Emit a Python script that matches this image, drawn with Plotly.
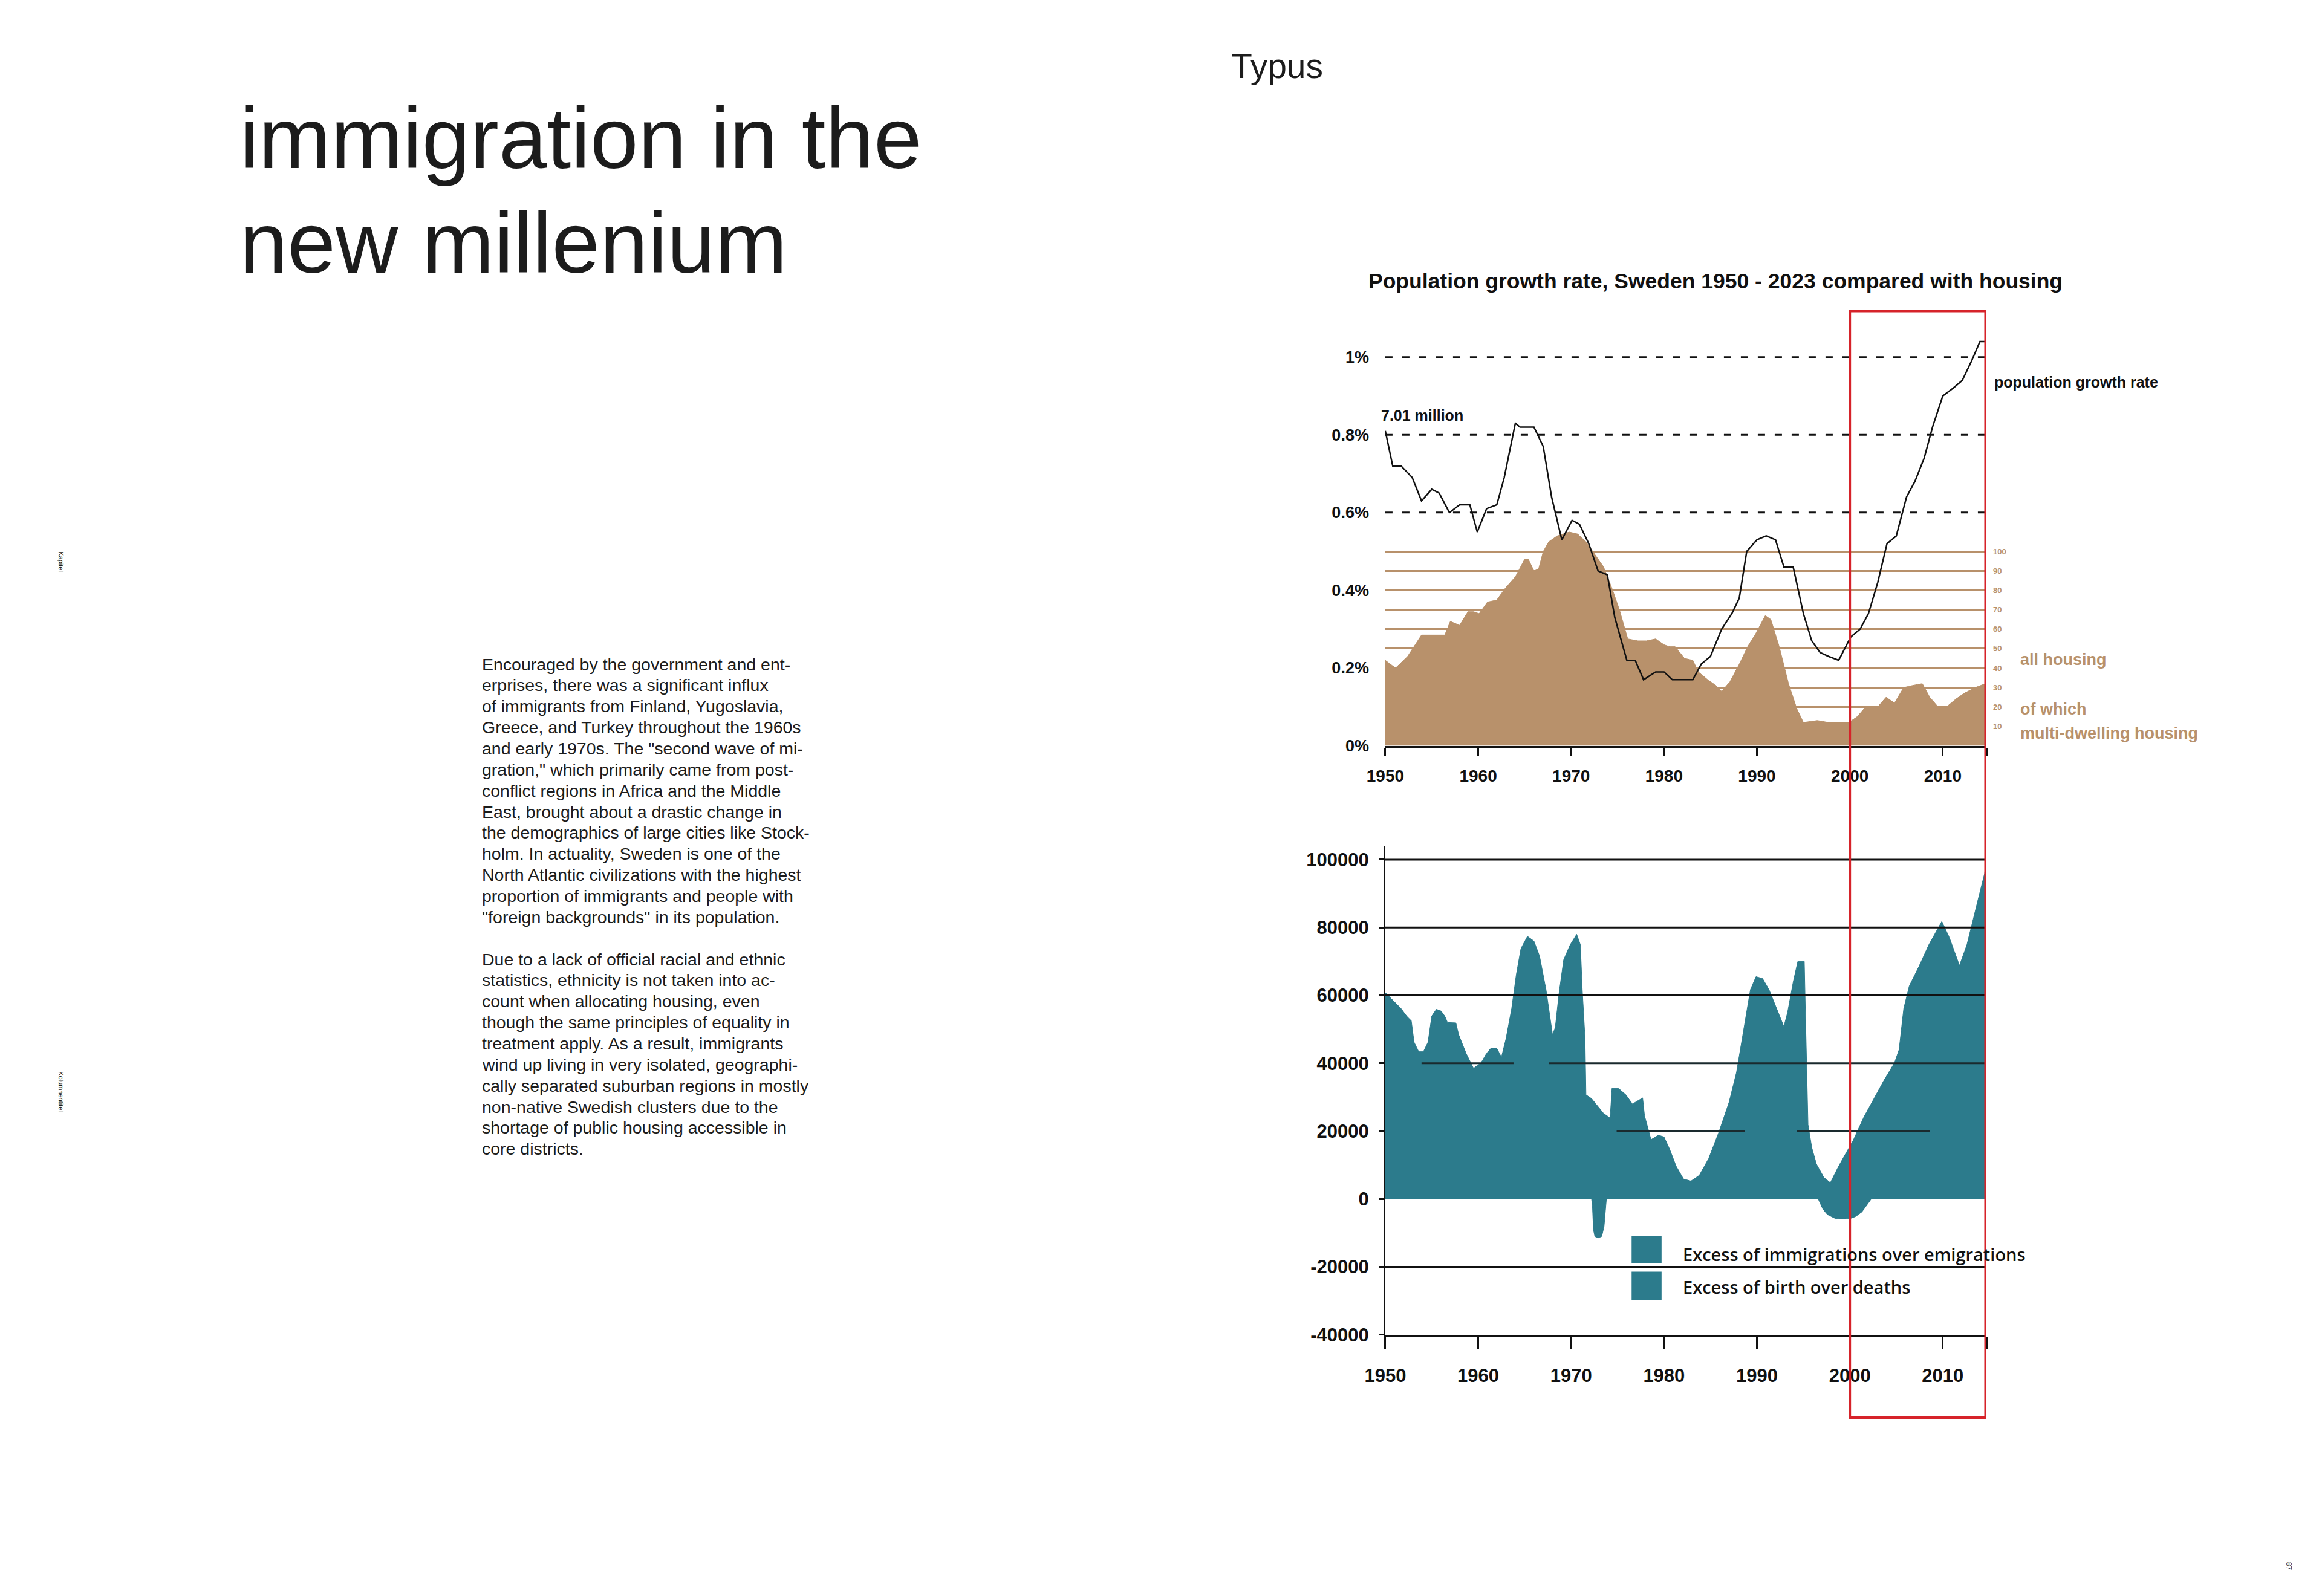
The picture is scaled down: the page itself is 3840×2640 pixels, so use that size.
import plotly.graph_objects as go

W, H = 3840, 2640
def px(x): return x / W
def py(y): return 1 - y / H

# ---------------- data ----------------
growth_years = [1950.0, 1950.8, 1951.7, 1952.9, 1953.9, 1955.0, 1955.8, 1956.9, 1958.0, 1959.1,
                1959.9, 1960.9, 1962.0, 1962.8, 1964.0, 1964.5, 1966.0, 1967.0, 1967.9, 1969.0,
                1970.1, 1970.9, 1971.9, 1972.9, 1973.9, 1974.7, 1976.0, 1976.9, 1977.8, 1979.1,
                1980.0, 1980.9, 1983.1, 1984.0, 1985.0, 1986.2, 1987.3, 1988.1, 1988.9, 1990.0,
                1991.0, 1992.0, 1992.9, 1993.9, 1995.0, 1995.9, 1996.8, 1997.7, 1998.8, 2000.1,
                2001.1, 2002.0, 2003.0, 2004.0, 2005.0, 2006.1, 2007.0, 2008.0, 2008.9, 2010.0,
                2011.1, 2012.1, 2013.1, 2014.0, 2014.5]
growth_pct = [0.81, 0.72, 0.72, 0.69, 0.63, 0.66, 0.65, 0.60, 0.62, 0.62,
              0.55, 0.61, 0.62, 0.69, 0.83, 0.82, 0.82, 0.77, 0.64, 0.53,
              0.58, 0.57, 0.52, 0.45, 0.44, 0.33, 0.22, 0.22, 0.17, 0.19,
              0.19, 0.17, 0.17, 0.21, 0.23, 0.30, 0.34, 0.38, 0.50, 0.53,
              0.54, 0.53, 0.46, 0.46, 0.34, 0.27, 0.24, 0.23, 0.22, 0.28,
              0.30, 0.34, 0.42, 0.52, 0.54, 0.64, 0.68, 0.74, 0.82, 0.90,
              0.92, 0.94, 0.99, 1.04, 1.04]

housing_years = [1950.0, 1951.1, 1952.4, 1953.9, 1954.5, 1955.5, 1956.4, 1957.0, 1958.0, 1958.9,
                 1959.5, 1960.1, 1961.0, 1962.0, 1962.9, 1964.0, 1965.0, 1965.4, 1966.0, 1966.5,
                 1967.0, 1967.6, 1968.5, 1969.8, 1970.7, 1971.6, 1972.5, 1973.5, 1974.4, 1975.2,
                 1975.8, 1976.1, 1977.2, 1978.1, 1979.1, 1980.0, 1980.6, 1981.2, 1982.2, 1983.1,
                 1983.7, 1984.7, 1985.6, 1986.2, 1987.1, 1988.1, 1989.0, 1989.9, 1990.9, 1991.5,
                 1992.4, 1993.4, 1994.3, 1995.0, 1996.5, 1997.7, 1998.9, 1999.9, 2000.8, 2001.7,
                 2003.0, 2003.9, 2004.8, 2005.8, 2006.7, 2007.8, 2008.6, 2009.5, 2010.4, 2011.4,
                 2012.3, 2013.5, 2014.6]
housing_k = [44, 40, 46, 57, 57, 57, 57, 64, 62, 69,
             69, 68, 74, 75, 81, 87, 96, 96, 90, 91,
             100, 105, 108, 110, 109, 105, 99, 92, 81, 70,
             60, 55, 54, 54, 55, 52, 51, 51, 45, 44,
             38, 34, 31, 28, 33, 42, 51, 58, 67, 65,
             51, 32, 19, 12, 13, 12, 12, 12, 15, 20,
             20, 25, 22, 30, 31, 32, 25, 20, 20, 24,
             27, 30, 32]
housing_ticks = [10, 20, 30, 40, 50, 60, 70, 80, 90, 100]

mig_years = [1950.0, 1950.9, 1951.7, 1952.3, 1952.8, 1953.1, 1953.6, 1954.1, 1954.6, 1955.0,
             1955.5, 1956.0, 1956.4, 1956.7, 1957.6, 1957.9, 1958.7, 1959.5, 1960.3, 1960.9,
             1961.4, 1962.0, 1962.5, 1963.0, 1963.6, 1964.1, 1964.6, 1965.3, 1966.0, 1966.6,
             1967.3, 1968.0, 1968.3, 1968.7, 1969.2, 1969.9, 1970.6, 1971.0, 1971.2, 1971.5,
             1971.6, 1972.2, 1973.0, 1973.5, 1974.2, 1974.4, 1975.1, 1975.9, 1976.6, 1977.3,
             1977.7, 1977.9, 1978.6, 1979.4, 1980.0, 1980.6, 1981.3, 1982.1, 1982.9, 1983.8,
             1984.8, 1985.9, 1987.0, 1987.8, 1988.6, 1989.3, 1989.9, 1990.6, 1991.3, 1992.1,
             1992.9, 1993.3, 1993.9, 1994.4, 1995.1, 1995.2, 1995.5, 1995.9, 1996.4, 1997.2,
             1997.9, 1998.8, 1999.6, 2000.4, 2001.5, 2002.6, 2003.7, 2004.8, 2005.3, 2005.8,
             2006.4, 2007.4, 2008.5, 2009.9, 2010.7, 2011.8, 2012.6, 2013.7, 2014.5, 2014.7]
mig_values = [60800, 58300, 56100, 53900, 52500, 46200, 43400, 43400, 46200, 53900,
              55900, 55400, 53900, 52000, 51900, 48400, 42900, 38500, 40100, 42900,
              44500, 44400, 41800, 47300, 56100, 66100, 73800, 77400, 76000, 71600,
              61700, 48400, 50600, 60600, 70500, 74900, 78000, 74900, 61700, 47300,
              30700, 29600, 26900, 25200, 23900, 32600, 32600, 30700, 28000, 29100,
              29800, 24600, 17500, 18800, 18300, 14700, 9700, 5900, 5300, 7000,
              11900, 19700, 28500, 37300, 50600, 61700, 65500, 65000, 61700, 56100,
              50800, 55000, 63900, 70000, 70000, 57200, 21900, 15200, 10300, 6400,
              4800, 9700, 13600, 17500, 24100, 29600, 35100, 40100, 44000, 56100,
              62800, 68300, 74900, 81800, 77100, 68800, 74900, 87100, 95900, 99800]

nat_years = [1950.0, 1972.2, 1972.3, 1972.4, 1972.55, 1972.9, 1973.3, 1973.55, 1973.8, 1996.6,
             1997.1, 1997.6, 1998.4, 1999.2, 2000.1, 2000.6, 2001.3, 2001.8, 2002.3, 2014.7]
nat_values = [0, 0, -2400, -9000, -11000, -11500, -11000, -8000, 0, 0,
              -3000, -4600, -5700, -5900, -5700, -5200, -3800, -1900, 0, 0]

year_ticks = [1950, 1960, 1970, 1980, 1990, 2000, 2010]
growth_ticks = [0, 0.2, 0.4, 0.6, 0.8, 1.0]
growth_ticktext = ["0%", "0.2%", "0.4%", "0.6%", "0.8%", "1%"]
dashed_levels = [0.6, 0.8, 1.0]
count_ticks = [-40000, -20000, 0, 20000, 40000, 60000, 80000, 100000]
full_grid = [100000, 80000, 60000, -20000]
partial_grid = [(40000, 1953.9, 1963.8), (40000, 1967.6, 2014.7),
                (20000, 1974.9, 1988.7), (20000, 1994.3, 2008.6)]

TAN = "#b8916b"
TEAL = "#2c7b8c"
RED = "#d6232a"
BLACK = "#111111"
XEND = 2014.7
CHART_FONT = "Liberation Sans"

fig = go.Figure()

# housing (main y of top subplot)
fig.add_trace(go.Scatter(x=housing_years, y=housing_k, mode="lines", line=dict(color=TAN, width=1),
                         fill="tozeroy", fillcolor=TAN, xaxis="x", yaxis="y", showlegend=False,
                         name="all housing"))
# growth line on overlaying axis
fig.add_trace(go.Scatter(x=growth_years, y=growth_pct, mode="lines", line=dict(color=BLACK, width=2.5),
                         xaxis="x", yaxis="y2", showlegend=False, name="population growth rate"))
# bottom chart
fig.add_trace(go.Scatter(x=mig_years, y=mig_values, mode="lines", line=dict(color=TEAL, width=1),
                         fill="tozeroy", fillcolor=TEAL, xaxis="x2", yaxis="y3", showlegend=False,
                         name="Excess of immigrations over emigrations"))
fig.add_trace(go.Scatter(x=nat_years, y=nat_values, mode="lines", line=dict(color=TEAL, width=1),
                         fill="tozeroy", fillcolor=TEAL, xaxis="x2", yaxis="y3", showlegend=False,
                         name="Excess of birth over deaths"))

xdom = [px(2269), px(3272)]
top_dom = [py(1234), py(522)]
bot_dom = [py(2215), py(1401)]

tick_font_top = dict(family=CHART_FONT, size=27, color=BLACK, weight="bold")
tick_font_xtop = dict(family=CHART_FONT, size=28, color=BLACK, weight="bold")
tick_font_bot = dict(family=CHART_FONT, size=31, color=BLACK, weight="bold")

fig.update_layout(
    width=W, height=H, margin=dict(l=0, r=0, t=0, b=0),
    paper_bgcolor="white", plot_bgcolor="rgba(0,0,0,0)",
    xaxis=dict(domain=xdom, range=[1950, XEND], anchor="y", tickvals=year_ticks + [XEND],
               ticktext=[str(t) for t in year_ticks] + [""], ticks="outside", ticklen=14, tickwidth=3,
               tickcolor=BLACK, showline=True, linecolor=BLACK, linewidth=3, showgrid=False,
               zeroline=False, tickfont=tick_font_xtop, ticklabelstandoff=9),
    yaxis=dict(domain=top_dom, range=[0, 220], anchor="x", side="right", tickvals=housing_ticks,
               ticktext=[str(t) for t in housing_ticks], showgrid=True, gridcolor=TAN, gridwidth=3,
               zeroline=False, showline=False, ticks="", ticklabelstandoff=10,
               tickfont=dict(family=CHART_FONT, size=13, color=TAN, weight="bold")),
    yaxis2=dict(overlaying="y", range=[0, 1.1], side="left", anchor="x", tickvals=growth_ticks,
                ticktext=growth_ticktext, showgrid=False, zeroline=False, showline=False, ticks="",
                ticklabelstandoff=26, tickfont=tick_font_top),
    xaxis2=dict(domain=xdom, range=[1950, XEND], anchor="y3", tickvals=year_ticks + [XEND],
                ticktext=[str(t) for t in year_ticks] + [""], ticks="outside", ticklen=21, tickwidth=3,
                tickcolor=BLACK, showline=True, linecolor=BLACK, linewidth=3, showgrid=False,
                zeroline=False, tickfont=tick_font_bot, ticklabelstandoff=17),
    yaxis3=dict(domain=bot_dom, range=[-40000, 104000], anchor="x2", tickvals=count_ticks,
                ticktext=[str(t) for t in count_ticks], ticks="outside", ticklen=7, tickwidth=3,
                tickcolor=BLACK, showline=True, linecolor=BLACK, linewidth=3, showgrid=False,
                zeroline=False, tickfont=tick_font_bot, ticklabelstandoff=11),
)

shapes = []
for lv in dashed_levels:
    shapes.append(dict(type="line", xref="x", yref="y2", x0=1950, x1=XEND, y0=lv, y1=lv,
                       line=dict(color=BLACK, width=3, dash="12px,16px"), layer="above"))
for lv in full_grid:
    shapes.append(dict(type="line", xref="x2", yref="y3", x0=1950, x1=XEND, y0=lv, y1=lv,
                       line=dict(color=BLACK, width=3), layer="above"))
for lv, a, b in partial_grid:
    shapes.append(dict(type="line", xref="x2", yref="y3", x0=a, x1=b, y0=lv, y1=lv,
                       line=dict(color="#1a2a2e", width=3), layer="above"))
# red highlight box
shapes.append(dict(type="rect", xref="x", yref="paper", x0=2000, x1=2014.6, y0=py(2353), y1=py(510),
                   line=dict(color=RED, width=4), fillcolor="rgba(0,0,0,0)", layer="above"))
# legend swatches
shapes.append(dict(type="rect", xref="paper", yref="paper", x0=px(2680), x1=px(2730), y0=py(2096), y1=py(2050),
                   line=dict(width=0), fillcolor=TEAL))
shapes.append(dict(type="rect", xref="paper", yref="paper", x0=px(2680), x1=px(2730), y0=py(2157), y1=py(2110),
                   line=dict(width=0), fillcolor=TEAL))
fig.update_layout(shapes=shapes)

ann = []
def text(x, y, s, size, color="#1c1c1c", xanchor="left", family="Liberation Sans", weight="normal", angle=0):
    ann.append(dict(x=px(x), y=py(y), xref="paper", yref="paper", text=s, showarrow=False,
                    xanchor=xanchor, yanchor="middle", textangle=angle,
                    font=dict(family=family, size=size, color=color, weight=weight)))

text(2010, 102, "Typus", 57)
text(355, 222, "immigration in the", 143)
text(355, 396, "new millenium", 143)

body = [
    "Encouraged by the government and ent-",
    "erprises, there was a significant influx",
    "of immigrants from Finland, Yugoslavia,",
    "Greece, and Turkey throughout the 1960s",
    "and early 1970s. The \"second wave of mi-",
    "gration,\" which primarily came from post-",
    "conflict regions in Africa and the Middle",
    "East, brought about a drastic change in",
    "the demographics of large cities like Stock-",
    "holm. In actuality, Sweden is one of the",
    "North Atlantic civilizations with the highest",
    "proportion of immigrants and people with",
    "\"foreign backgrounds\" in its population.",
    "",
    "Due to a lack of official racial and ethnic",
    "statistics, ethnicity is not taken into ac-",
    "count when allocating housing, even",
    "though the same principles of equality in",
    "treatment apply. As a result, immigrants",
    "wind up living in very isolated, geographi-",
    "cally separated suburban regions in mostly",
    "non-native Swedish clusters due to the",
    "shortage of public housing accessible in",
    "core districts.",
]
for i, line in enumerate(body):
    if line:
        text(760, 1098 + i * 35.1, line, 28.5)

text(60, 928, "Kapitel", 11, angle=90, xanchor="center")
text(60, 1810, "Kolumnentitel", 11, angle=90, xanchor="center")
text(3776, 2600, "87", 12, angle=90, xanchor="center")

text(2820, 460, "Population growth rate, Sweden 1950 - 2023 compared with housing", 35.5, color=BLACK,
     xanchor="center", weight="bold")
text(2260, 684, "7.01 million", 25, color=BLACK, weight="bold")
text(3283, 628, "population growth rate", 25, color=BLACK, weight="bold")
text(3326, 1090, "all housing", 27, color=TAN, weight="bold")
text(3326, 1173, "of which", 27, color=TAN, weight="bold")
text(3326, 1213, "multi-dwelling housing", 27, color=TAN, weight="bold")

text(2763, 2081, "Excess of immigrations over emigrations", 29, color=BLACK, family="Open Sans", weight=600)
text(2763, 2135, "Excess of birth over deaths", 29, color=BLACK, family="Open Sans", weight=600)

fig.update_layout(annotations=ann)
fig.write_html("out.html")
